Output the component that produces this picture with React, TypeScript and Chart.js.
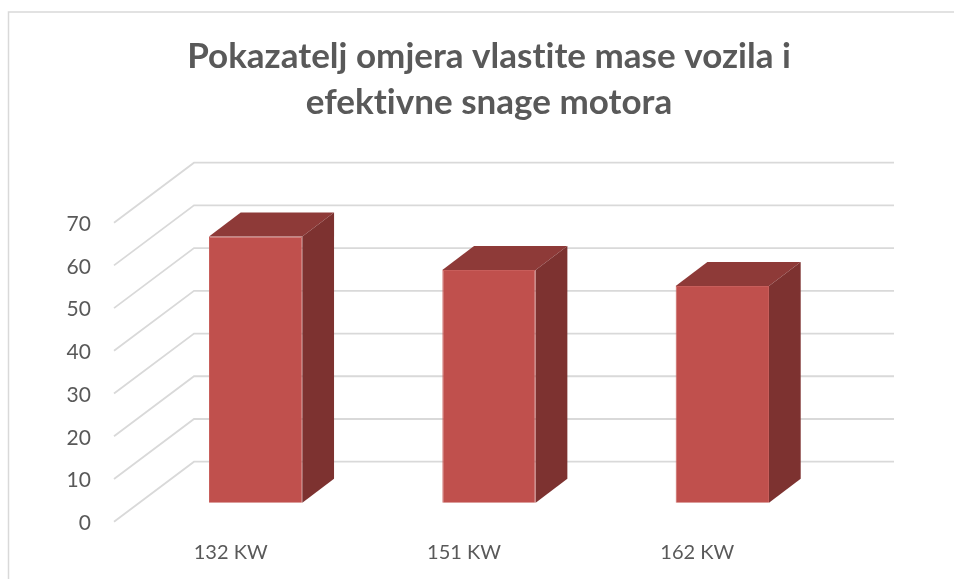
import React, { useEffect, useRef } from "react";
import { Chart, registerables } from "chart.js";

Chart.register(...registerables);

const titleLines = ["Pokazatelj omjera vlastite mase vozila i", "efektivne snage motora"];
const categories = ["132 KW", "151 KW", "162 KW"];
const ratioValues = [62.3, 54.5, 50.7];
const axisMin = 0;
const axisMax = 70;
const axisStep = 10;

const FRONT = "#C0504D";
const TOP = "#8E3A38";
const SIDE = "#7D3230";
const GRID = "#D9D9D9";
const TEXT = "#595959";
const FONT = "Lato, Carlito, sans-serif";

// Depth of the floor (whole plot) and position of the bars inside that depth
const WALL_DX = 80;
const WALL_DY = -60;
const BAR_SHIFT_X = 25;
const BAR_SHIFT_Y = -19;
const BAR_DX = 31.7;
const BAR_DY = -24;

const perspective3d = {
  id: "perspective3d",
  beforeDraw(chart: any) {
    const { ctx } = chart;
    // a non-zero spacing keeps "ti" from being drawn as a ligature
    ctx.letterSpacing = "0.01px";
    ctx.save();
    ctx.strokeStyle = GRID;
    ctx.lineWidth = 1.5;
    ctx.beginPath();
    ctx.moveTo(8.5, 579);
    ctx.lineTo(8.5, 12);
    ctx.lineTo(954, 12);
    ctx.stroke();
    ctx.restore();
  },
  beforeDatasetsDraw(chart: any) {
    const { ctx, chartArea } = chart;
    const y = chart.scales.y;
    ctx.save();
    ctx.strokeStyle = GRID;
    ctx.lineWidth = 1.8;
    for (let v = axisMin; v <= axisMax; v += axisStep) {
      const py = y.getPixelForValue(v);
      ctx.beginPath();
      ctx.moveTo(chartArea.left, py);
      ctx.lineTo(chartArea.left + WALL_DX, py + WALL_DY);
      ctx.lineTo(chartArea.right + WALL_DX, py + WALL_DY);
      ctx.stroke();
    }
    ctx.restore();

    ctx.save();
    ctx.translate(BAR_SHIFT_X, BAR_SHIFT_Y);
  },
  afterDatasetsDraw(chart: any) {
    const { ctx } = chart;
    const meta = chart.getDatasetMeta(0);
    meta.data.forEach((bar: any) => {
      const p = bar.getProps(["x", "y", "base", "width"], true);
      const l = p.x - p.width / 2;
      const r = p.x + p.width / 2;
      ctx.fillStyle = TOP;
      ctx.beginPath();
      ctx.moveTo(l, p.y);
      ctx.lineTo(l + BAR_DX, p.y + BAR_DY);
      ctx.lineTo(r + BAR_DX, p.y + BAR_DY);
      ctx.lineTo(r, p.y);
      ctx.closePath();
      ctx.fill();
      ctx.fillStyle = SIDE;
      ctx.beginPath();
      ctx.moveTo(r, p.y);
      ctx.lineTo(r + BAR_DX, p.y + BAR_DY);
      ctx.lineTo(r + BAR_DX, p.base + BAR_DY);
      ctx.lineTo(r, p.base);
      ctx.closePath();
      ctx.fill();
    });
    ctx.restore();
  },
};

export default function App() {
  const ref = useRef<HTMLCanvasElement | null>(null);

  useEffect(() => {
    if (!ref.current) return;
    const chart = new Chart(ref.current, {
      type: "bar",
      data: {
        labels: categories,
        datasets: [
          {
            label: "Pokazatelj",
            data: ratioValues,
            backgroundColor: FRONT,
            borderColor: "#C85E5B",
            borderWidth: 1,
            barPercentage: 0.4,
            categoryPercentage: 1,
            clip: false,
          } as any,
        ],
      },
      options: {
        responsive: false,
        animation: false,
        layout: { padding: { left: 24, top: 0, right: 0, bottom: 0 } },
        plugins: {
          legend: { display: false },
          tooltip: { enabled: false },
          title: {
            display: true,
            text: titleLines,
            color: TEXT,
            font: { family: FONT, size: 35, weight: "bold", lineHeight: 1.314 },
            padding: { top: 34, bottom: 96.7 },
          },
        },
        scales: {
          x: {
            grid: { display: false },
            border: { display: false },
            ticks: { color: TEXT, font: { family: FONT, size: 20 }, padding: 11, maxRotation: 0 },
            afterFit(s: any) {
              s.height = 57.3;
            },
          },
          y: {
            min: axisMin,
            max: axisMax,
            grid: { display: false },
            border: { display: false },
            ticks: { stepSize: axisStep, color: TEXT, font: { family: FONT, size: 21 }, padding: 15, labelOffset: 1.5 },
            afterFit(s: any) {
              s.width = 90;
            },
          },
          depthRoom: {
            type: "linear",
            position: "right",
            min: axisMin,
            max: axisMax,
            grid: { display: false },
            border: { display: false },
            ticks: { display: false },
            afterFit(s: any) {
              s.width = 140;
            },
          },
        },
      } as any,
      plugins: [perspective3d],
    });
    return () => chart.destroy();
  }, []);

  return (
    <div style={{ position: "absolute", left: 0, top: 0, width: 954, height: 579, background: "#fff" }}>
      <canvas ref={ref} width={954} height={579} style={{ display: "block" }} />
    </div>
  );
}
